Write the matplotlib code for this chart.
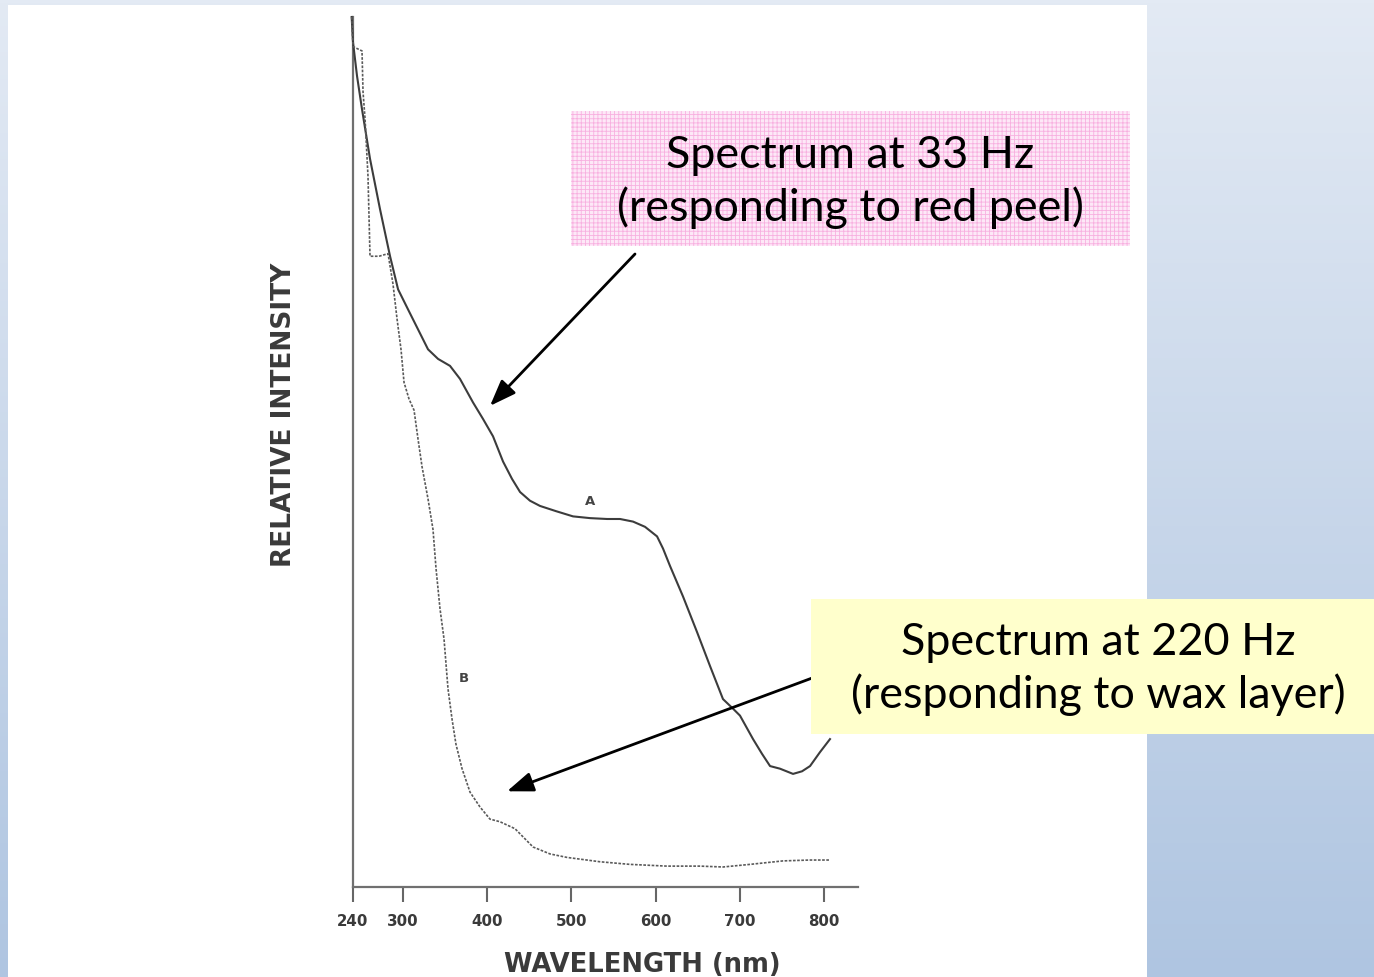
import numpy as np
import matplotlib
matplotlib.use("Agg")
import matplotlib.pyplot as plt
from matplotlib.patches import Rectangle

# ---------------- data ----------------
wl_a = [239, 240.6, 245.4, 251.3, 260.8, 272.7, 284.6, 294.1, 305.9, 317.8, 329.7, 341.6,
        355.8, 367.7, 383.1, 395.0, 406.9, 418.8, 429.5, 439.0, 450.8, 462.7, 481.7, 501.9,
        522.1, 542.3, 557.7, 573.2, 587.4, 601.7, 608.8, 617.1, 632.5, 649.2, 664.6, 680.0,
        691.9, 700.2, 715.7, 726.4, 735.9, 747.7, 763.2, 773.9, 783.4, 795.2, 807.1]
int_a = [100, 97.1, 93.2, 89.4, 83.7, 77.9, 72.5, 68.7, 66.4, 64.1, 61.8, 60.7,
         59.9, 58.4, 55.7, 53.8, 51.8, 48.9, 46.9, 45.4, 44.4, 43.8, 43.2, 42.6,
         42.4, 42.3, 42.3, 42.0, 41.4, 40.3, 38.9, 36.9, 33.4, 29.3, 25.4, 21.6,
         20.5, 19.7, 17.0, 15.3, 13.9, 13.6, 13.0, 13.3, 13.9, 15.5, 17.0]

wl_b = [239, 240.6, 251.3, 252.5, 254.9, 258.4, 260.8, 271.5, 282.2, 288.1, 292.9, 297.6,
        301.2, 307.1, 313.1, 317.8, 322.6, 329.7, 335.6, 339.2, 343.9, 348.7, 353.4, 358.2,
        362.9, 370.1, 379.6, 391.4, 403.3, 415.2, 433.0, 454.4, 474.6, 494.8, 534.0, 569.6,
        613.5, 652.7, 680.0, 712.1, 751.3, 783.4, 807.1]
int_b = [100, 96.6, 96.1, 91.4, 88.3, 81.7, 72.5, 72.5, 72.8, 69.3, 65.3, 61.8,
         58.0, 56.1, 54.8, 51.5, 48.3, 44.6, 41.1, 36.6, 32.0, 28.5, 22.8, 19.3,
         16.4, 13.6, 10.9, 9.2, 7.8, 7.5, 6.7, 4.6, 3.8, 3.4, 2.9, 2.6,
         2.4, 2.4, 2.3, 2.6, 3.0, 3.1, 3.1]

xticks = [240, 300, 400, 500, 600, 700, 800]
xtick_labels = ["240", "300", "400", "500", "600", "700", "800"]

xlabel = "WAVELENGTH (nm)"
ylabel = "RELATIVE INTENSITY"
box1_text = "Spectrum at 33 Hz\n(responding to red peel)"
box2_text = "Spectrum at 220 Hz\n(responding to wax layer)"

# ---------------- figure ----------------
W, H = 1374, 978
fig = plt.figure(figsize=(W / 100, H / 100), dpi=100)
plt.rcParams["hatch.linewidth"] = 0.6

def fx(px):
    return px / W

def fy(py):
    return 1 - py / H

# gradient background
bg = fig.add_axes([0, 0, 1, 1], zorder=0)
bg.set_axis_off()
top = np.array([0xe3, 0xea, 0xf4]) / 255
bot = np.array([0xaf, 0xc5, 0xe1]) / 255
t = np.linspace(0, 1, 256)[:, None]
grad = top[None, :] * (1 - t) + bot[None, :] * t
bg.imshow(grad[:, None, :], aspect="auto", extent=[0, 1, 0, 1], origin="upper")
bg.set_xlim(0, 1)
bg.set_ylim(0, 1)
# white panel
bg.add_patch(Rectangle((fx(8), fy(978)), fx(1147 - 8), (978 - 6) / H,
                       facecolor="white", edgecolor="none", transform=bg.transAxes))

# main axes
x0, x1 = 352.5, 857.7
y0, y1 = 888, 18
ax = fig.add_axes([fx(x0), fy(y0), fx(x1 - x0), (y0 - y1) / H], zorder=2)
ax.patch.set_alpha(0)
ax.set_xlim(240, 840)
ax.set_ylim(0, 100)
for s in ["top", "right"]:
    ax.spines[s].set_visible(False)
for s in ["left", "bottom"]:
    ax.spines[s].set_color("#707070")
    ax.spines[s].set_linewidth(1.6)

ax.plot(wl_a, int_a, color="#3c3c3c", lw=1.5, solid_joinstyle="round", clip_on=False, zorder=3)
ax.plot(wl_b, int_b, color="#5a5a5a", lw=1.2, linestyle=(0, (1.6, 0.9)), clip_on=False, zorder=3)

ax.text(522, 44.4, "A", fontsize=9.5, fontweight="bold", color="#444",
        family="DejaVu Sans", ha="center", va="center")
ax.text(372, 24.1, "B", fontsize=9.5, fontweight="bold", color="#444",
        family="DejaVu Sans", ha="center", va="center")

ax.set_xticks(xticks)
ax.set_xticklabels(xtick_labels)
ax.tick_params(axis="x", direction="out", length=11, width=1.5, color="#666",
               pad=8, labelsize=10.8, labelcolor="#3a3a3a")
for lbl in ax.get_xticklabels():
    lbl.set_family("DejaVu Sans")
    lbl.set_fontweight("bold")
ax.set_yticks([])

fig.text(fx(642), fy(965), xlabel, fontsize=18.6, fontweight="bold", color="#3a3a3a",
         family="DejaVu Sans", ha="center", va="center")
fig.text(fx(284), fy(415), ylabel, fontsize=19, fontweight="bold", color="#3a3a3a",
         family="DejaVu Sans", ha="center", va="center", rotation=90)

# annotation boxes
ov = fig.add_axes([0, 0, 1, 1], zorder=3)
ov.set_axis_off()
ov.set_xlim(0, W)
ov.set_ylim(H, 0)
ov.patch.set_alpha(0)

ov.add_patch(Rectangle((571, 112), 1130 - 571, 247 - 112, facecolor="#fde8f7",
                       edgecolor="#f8b0e0", hatch="++++", lw=0))
ov.add_patch(Rectangle((811, 600), 1374 - 811, 735 - 600, facecolor="#ffffcc",
                       edgecolor="none", lw=0))

ov.text(850, 182, box1_text, fontsize=32.3, family="Lato", color="black",
        ha="center", va="center", linespacing=1.3)
ov.text(1098, 669, box2_text, fontsize=32.3, family="Lato", color="black",
        ha="center", va="center", linespacing=1.3)

# arrows (tips point at the curves, in data coordinates)
arrow_kw = dict(arrowstyle="-|>,head_length=0.8,head_width=0.3", color="black",
                lw=2.0, mutation_scale=20, shrinkA=0, shrinkB=0)
ax.annotate("", xy=(403.3, 55.3), xycoords="data",
            xytext=(fx(635), fy(255)), textcoords="figure fraction",
            arrowprops=arrow_kw, annotation_clip=False, zorder=5)
ax.annotate("", xy=(423.5, 11.0), xycoords="data",
            xytext=(fx(858), fy(662)), textcoords="figure fraction",
            arrowprops=arrow_kw, annotation_clip=False, zorder=5)

fig.savefig("out.png", dpi=100)
